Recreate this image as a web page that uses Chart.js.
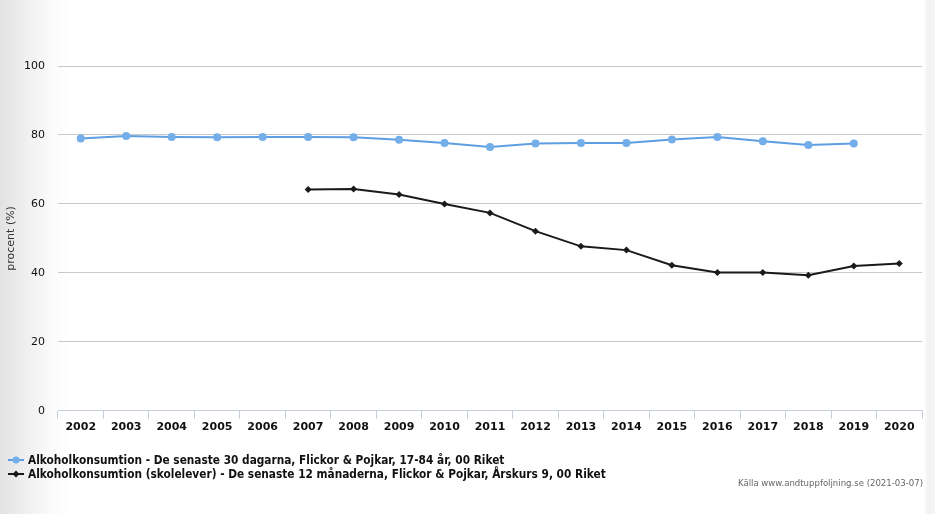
<!DOCTYPE html>
<html>
<head>
<meta charset="utf-8">
<script src="https://cdn.jsdelivr.net/npm/chart.js@4/dist/chart.umd.min.js"></script>
<style>
  html, body { margin: 0; padding: 0; }
  body {
    width: 935px; height: 514px; overflow: hidden; position: relative;
    background: linear-gradient(to right, #e2e2e2 0px, #efefef 25px, #fafafa 50px, #ffffff 70px, #ffffff 924px, #f2f2f2 928px, #f5f5f5 935px);
    font-family: "DejaVu Sans", sans-serif;
  }
  #wrap { position: absolute; left: 0; top: 0; width: 935px; height: 514px; }
  #legend { position: absolute; left: 8px; top: 453px; font-size: 11.75px; color: #111; font-family: "DejaVu Sans Condensed", "DejaVu Sans", sans-serif; font-weight: 600; }
  .item { height: 14px; line-height: 14px; white-space: nowrap; display: flex; align-items: center; }
  .item canvas { margin-right: 4px; }
  #source { position: absolute; right: 12px; top: 477px; font-size: 9.5px; color: #666; font-family: "DejaVu Sans Condensed", "DejaVu Sans", sans-serif; }
</style>
</head>
<body>
<div id="wrap"><canvas id="chart"></canvas></div>
<div id="legend"></div>
<div id="source">Källa www.andtuppfoljning.se (2021-03-07)</div>
<script>
const years = ['2002', '2003', '2004', '2005', '2006', '2007', '2008', '2009', '2010', '2011',
  '2012', '2013', '2014', '2015', '2016', '2017', '2018', '2019', '2020'];

const adults30Days = [79.0, 79.7, 79.4, 79.3, 79.4, 79.4, 79.3, 78.6, 77.7, 76.5,
  77.5, 77.7, 77.7, 78.7, 79.4, 78.2, 77.1, 77.5, null];

const pupils12Months = [null, null, null, null, null, 64.2, 64.3, 62.7, 60.0, 57.4,
  52.1, 47.7, 46.6, 42.2, 40.1, 40.1, 39.3, 42.0, 42.7];

const yTicks = [0, 20, 40, 60, 80, 100];

const seriesNames = [
  'Alkoholkonsumtion - De senaste 30 dagarna, Flickor & Pojkar, 17-84 år, 00 Riket',
  'Alkoholkonsumtion (skolelever) - De senaste 12 månaderna, Flickor & Pojkar, Årskurs 9, 00 Riket'
];

const blue = '#5e9fe3';
const blueFill = '#74aeea';
const black = '#1a1a1a';

const datasets = [
  {
    label: seriesNames[0],
    data: adults30Days,
    borderColor: blue,
    backgroundColor: blueFill,
    borderWidth: 2,
    pointStyle: 'circle',
    pointRadius: 4,
    pointBorderWidth: 0,
    tension: 0
  },
  {
    label: seriesNames[1],
    data: pupils12Months,
    borderColor: black,
    backgroundColor: black,
    borderWidth: 2,
    pointStyle: 'rectRot',
    pointRadius: 3.5,
    pointBorderWidth: 0,
    tension: 0
  }
];

new Chart('chart', {
  type: 'line',
  data: { labels: years, datasets: datasets },
  options: {
    responsive: true,
    maintainAspectRatio: false,
    animation: false,
    layout: { padding: { left: 0, right: 13, top: 66, bottom: 78 } },
    plugins: {
      legend: { display: false },
      tooltip: { enabled: false }
    },
    scales: {
      x: {
        offset: true,
        grid: {
          offset: true,
          drawOnChartArea: false,
          drawTicks: true,
          tickLength: 8,
          color: '#c5d0dc'
        },
        border: { color: '#c5d0dc', width: 1 },
        ticks: {
          color: '#111',
          font: { family: 'DejaVu Sans', size: 11, weight: 'bold' },
          padding: 2,
          maxRotation: 0,
          autoSkip: false
        }
      },
      y: {
        min: 0,
        max: 100,
        afterBuildTicks: (axis) => { axis.ticks = yTicks.map(v => ({ value: v })); },
        afterFit: (axis) => { axis.width = 58; },
        grid: { color: '#c8c8c8', lineWidth: 1, drawTicks: false },
        border: { display: false },
        ticks: {
          color: '#111',
          font: { family: 'DejaVu Sans', size: 11 },
          padding: 13
        },
        title: {
          display: true,
          text: 'procent (%)',
          color: '#333',
          font: { family: 'DejaVu Sans', size: 11 },
          padding: { top: 5, bottom: 4 }
        }
      }
    }
  }
});

// HTML legend: line with marker, like the original
const legend = document.getElementById('legend');
datasets.forEach((ds) => {
  const row = document.createElement('div');
  row.className = 'item';
  const c = document.createElement('canvas');
  c.width = 16; c.height = 10;
  const g = c.getContext('2d');
  g.strokeStyle = ds.borderColor;
  g.lineWidth = 2;
  g.beginPath(); g.moveTo(0, 5); g.lineTo(16, 5); g.stroke();
  g.fillStyle = ds.backgroundColor;
  g.beginPath();
  if (ds.pointStyle === 'circle') {
    g.arc(8, 5, 3.5, 0, Math.PI * 2);
  } else {
    g.moveTo(8, 1.5); g.lineTo(11.5, 5); g.lineTo(8, 8.5); g.lineTo(4.5, 5); g.closePath();
  }
  g.fill();
  row.appendChild(c);
  const span = document.createElement('span');
  span.textContent = ds.label;
  row.appendChild(span);
  legend.appendChild(row);
});
</script>
</body>
</html>
